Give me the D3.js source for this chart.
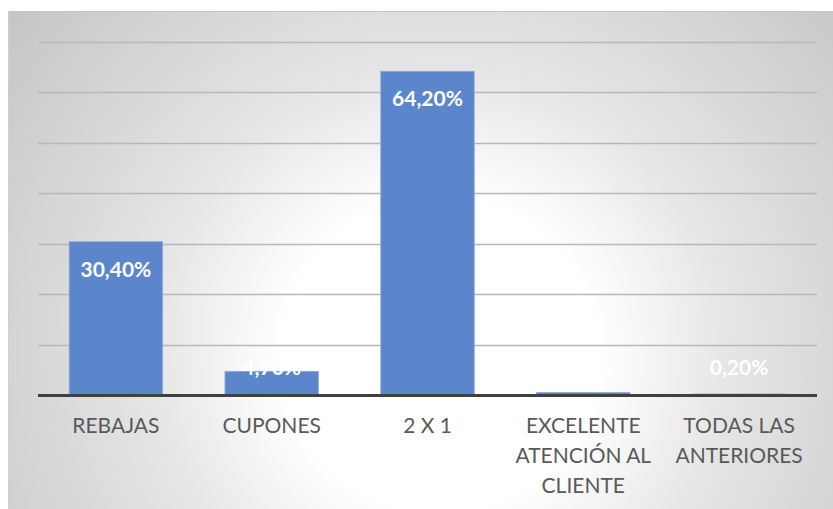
<!DOCTYPE html>
<html>
<head>
<meta charset="utf-8">
<script src="https://cdn.jsdelivr.net/npm/d3@7"></script>
<style>
  html, body { margin: 0; padding: 0; background: #ffffff; }
  svg { display: block; }
</style>
</head>
<body>
<svg id="chart" width="833" height="509"></svg>
<script>
// Survey answers: preferred promotion type (share of respondents, %)
const categories = ["REBAJAS", "CUPONES", "2 X 1", "EXCELENTE ATENCIÓN AL CLIENTE", "TODAS LAS ANTERIORES"];
const categoryLines = [["REBAJAS"], ["CUPONES"], ["2 X 1"], ["EXCELENTE", "ATENCIÓN AL", "CLIENTE"], ["TODAS LAS", "ANTERIORES"]];
const values = [30.4, 4.7, 64.2, 0.5, 0.2];
const valueLabels = ["30,40%", "4,70%", "64,20%", "0,50%", "0,20%"];
const gridTicks = [10, 20, 30, 40, 50, 60, 70];

const svg = d3.select("#chart");
const W = 833, H = 509;

// chart area background: soft radial shading, white around the lower middle
const defs = svg.append("defs");
const grad = defs.append("radialGradient")
  .attr("id", "bg").attr("gradientUnits", "userSpaceOnUse")
  .attr("cx", 440).attr("cy", 355).attr("r", 560);
grad.append("stop").attr("offset", "0%").attr("stop-color", "#ffffff");
grad.append("stop").attr("offset", "28%").attr("stop-color", "#ffffff");
grad.append("stop").attr("offset", "52%").attr("stop-color", "#e5e5e5");
grad.append("stop").attr("offset", "100%").attr("stop-color", "#c4c4c4");

svg.append("rect").attr("x", 8).attr("y", 11).attr("width", W - 8).attr("height", H - 11)
  .attr("fill", "url(#bg)");
svg.append("line").attr("x1", 8).attr("x2", W).attr("y1", 11.5).attr("y2", 11.5)
  .attr("stroke", "#c4c4c4").attr("stroke-width", 1);
svg.append("line").attr("x1", 8.5).attr("x2", 8.5).attr("y1", 11).attr("y2", H)
  .attr("stroke", "#cfcfcf").attr("stroke-width", 1);

const plot = { left: 38, right: 817, top: 42, bottom: 395 };

const x = d3.scaleBand().domain(categories)
  .range([plot.left, plot.right]).paddingInner(0.4).paddingOuter(0.2);
const y = d3.scaleLinear().domain([0, 70]).range([plot.bottom, plot.top]);

// horizontal gridlines
svg.append("g").selectAll("line").data(gridTicks).join("line")
  .attr("x1", plot.left).attr("x2", plot.right)
  .attr("y1", d => Math.round(y(d)) + 0.5).attr("y2", d => Math.round(y(d)) + 0.5)
  .attr("stroke", "#b8b8b8").attr("stroke-width", 1.4);

// bars
svg.append("g").selectAll("rect").data(values).join("rect")
  .attr("x", (d, i) => x(categories[i]))
  .attr("y", d => y(d))
  .attr("width", x.bandwidth())
  .attr("height", d => plot.bottom - y(d))
  .attr("fill", "#5b86cc")
  .attr("stroke", "#8fabdc").attr("stroke-width", 0.8);

// baseline axis
svg.append("line").attr("x1", plot.left).attr("x2", plot.right)
  .attr("y1", plot.bottom + 0.5).attr("y2", plot.bottom + 0.5)
  .attr("stroke", "#404040").attr("stroke-width", 3);

// value labels, inside the top of each bar
svg.append("g").selectAll("text").data(values).join("text")
  .attr("x", (d, i) => x(categories[i]) + x.bandwidth() / 2)
  .attr("y", d => Math.min(y(d) + 35, 375))
  .attr("text-anchor", "middle")
  .attr("font-family", "Lato, sans-serif")
  .attr("font-weight", "bold")
  .attr("font-size", 21)
  .attr("fill", "#ffffff")
  .text((d, i) => valueLabels[i]);

// category labels
const catG = svg.append("g");
categoryLines.forEach((lines, i) => {
  const cx = x(categories[i]) + x.bandwidth() / 2;
  const t = catG.append("text")
    .attr("x", cx)
    .attr("y", 433)
    .attr("text-anchor", "middle")
    .attr("font-family", "Lato, sans-serif")
    .attr("font-size", 21)
    .attr("fill", "#595959");
  lines.forEach((ln, j) => {
    t.append("tspan").attr("x", cx).attr("dy", j === 0 ? 0 : 30).text(ln);
  });
});
</script>
</body>
</html>
